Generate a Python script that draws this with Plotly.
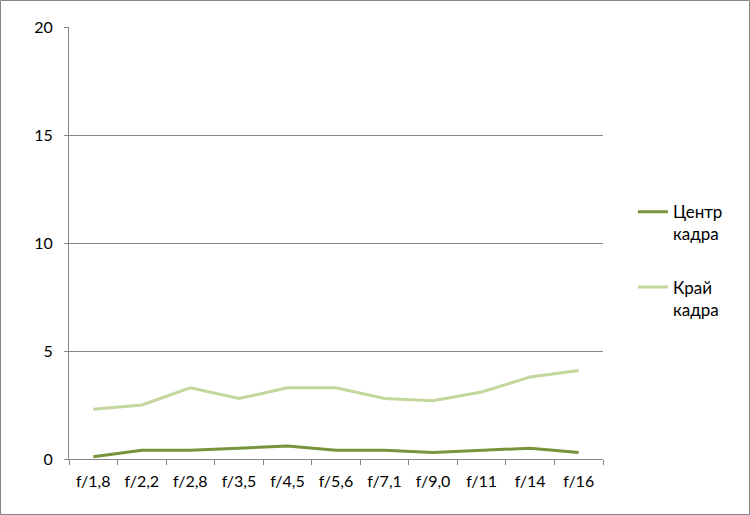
import plotly.graph_objects as go

categories = ["f/1,8", "f/2,2", "f/2,8", "f/3,5", "f/4,5", "f/5,6", "f/7,1", "f/9,0", "f/11", "f/14", "f/16"]
center = [0.1, 0.4, 0.4, 0.5, 0.6, 0.4, 0.4, 0.3, 0.4, 0.5, 0.3]
edge = [2.3, 2.5, 3.3, 2.8, 3.3, 3.3, 2.8, 2.7, 3.1, 3.8, 4.1]
series_names = ["Центр<br>кадра", "Край<br>кадра"]

W, H = 750, 515
L, R, T, B = 69, 147, 27, 56
pw, ph = W - L - R, H - T - B

fig = go.Figure()
fig.add_trace(go.Scatter(x=categories, y=center, mode="lines", name=series_names[0],
                         legendgroup="a", line=dict(color="#77933c", width=3)))
fig.add_trace(go.Scatter(x=categories, y=edge, mode="lines", name=series_names[1],
                         legendgroup="b", line=dict(color="#c3d69b", width=3)))

grey = "#868686"
font = dict(family="Lato, Calibri, sans-serif", size=16, color="#000000")
fig.update_layout(
    width=W, height=H,
    margin=dict(l=L, r=R, t=T, b=B, autoexpand=False),
    paper_bgcolor="white", plot_bgcolor="white",
    font=font,
    showlegend=True,
    legend=dict(x=1.056, y=0.613, xanchor="left", yanchor="top", valign="top",
                tracegroupgap=28, font=dict(family=font["family"], size=17, color="#000000"),
                itemwidth=30, bgcolor="rgba(0,0,0,0)"),
    xaxis=dict(type="category", range=[-0.5, len(categories) - 0.5], automargin=False,
               showline=True, linecolor=grey, linewidth=1,
               ticks="outside", tickson="boundaries", ticklen=5, tickcolor=grey,
               ticklabelstandoff=8, showgrid=False, tickfont=font),
    yaxis=dict(range=[0, 20], dtick=5, automargin=False, showline=True, linecolor=grey, linewidth=1,
               ticks="outside", ticklen=4, tickcolor=grey, ticklabelstandoff=8, showgrid=True,
               gridcolor=grey, gridwidth=1, zeroline=False, tickfont=font),
    shapes=[dict(type="rect", xref="paper", yref="paper",
                 x0=(0.5 - L) / pw, x1=(W - 0.5 - L) / pw,
                 y0=(0.5 - B) / ph, y1=(H - 0.5 - B) / ph,
                 line=dict(color=grey, width=1), layer="below")],
)

fig.write_html("out.html", config={"displayModeBar": False},
               post_script="document.body.style.margin='0';document.body.style.overflow='hidden';")
